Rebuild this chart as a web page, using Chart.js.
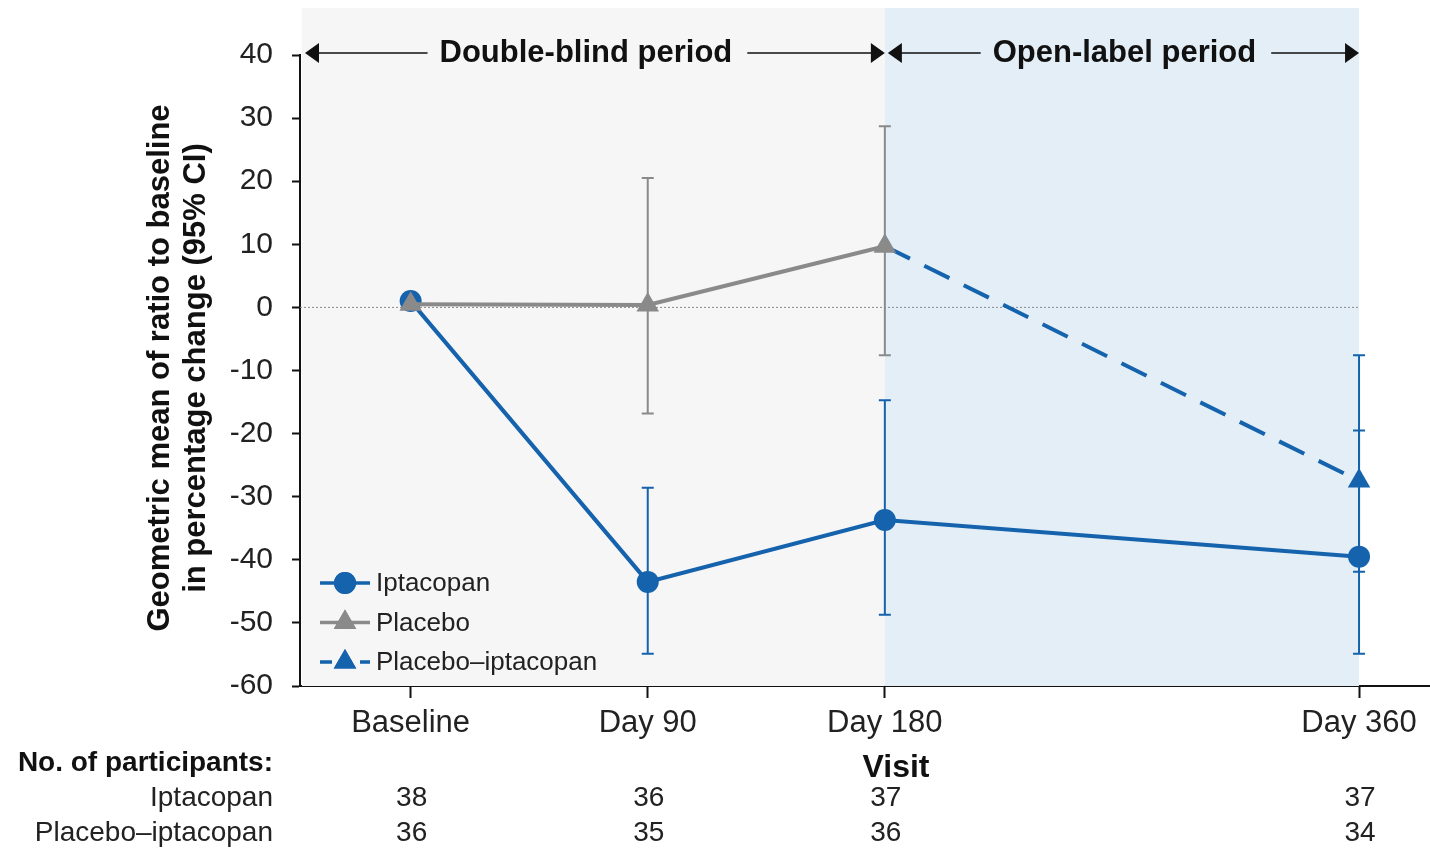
<!DOCTYPE html>
<html>
<head>
<meta charset="utf-8">
<script src="https://cdn.jsdelivr.net/npm/chart.js@4.4.1/dist/chart.umd.min.js"></script>
<style>
  body { margin: 0; background: #fff; }
  canvas { display: block; }
</style>
</head>
<body>
<canvas id="myChart" width="1430" height="849"></canvas>
<script>
// visits (days from baseline) and their labels
var visitLabels = ['Baseline', 'Day 90', 'Day 180', 'Day 360'];
var visitDays = [0, 90, 180, 360];

// geometric mean % change and 95% CI per visit
var iptacopanMean = [1.0, -43.5, -33.7, -39.5];
var iptacopanLow  = [null, -54.9, -48.7, -54.9];
var iptacopanHigh = [null, -28.6, -14.7, -19.5];

var placeboMean = [0.5, 0.4, 9.7, null];
var placeboLow  = [null, -16.8, -7.6, null];
var placeboHigh = [null, 20.5, 28.7, null];

var switchMean = [null, null, 9.7, -27.5];
var switchLow  = [null, null, null, -41.9];
var switchHigh = [null, null, null, -7.6];

// participants table under the axis
var nIptacopan = [38, 36, 37, 37];
var nSwitch = [36, 35, 36, 34];

var yTicks = [40, 30, 20, 10, 0, -10, -20, -30, -40, -50, -60];

var BLUE = '#1562ad';
var GREY = '#8a8a8a';
var FONT = '"Liberation Sans", Arial, sans-serif';

function toPoints(means) {
  var pts = [];
  for (var i = 0; i < visitDays.length; i++) {
    if (means[i] !== null) pts.push({ x: visitDays[i], y: means[i] });
  }
  return pts;
}

var errorBars = [
  { low: iptacopanLow, high: iptacopanHigh, color: BLUE },
  { low: placeboLow, high: placeboHigh, color: GREY },
  { low: switchLow, high: switchHigh, color: BLUE }
];

// shaded periods, zero line, error bars
var backdrop = {
  id: 'backdrop',
  beforeDatasetsDraw: function (chart) {
    var ctx = chart.ctx, x = chart.scales.x, y = chart.scales.y, area = chart.chartArea;
    var x180 = x.getPixelForValue(180), x360 = x.getPixelForValue(360);
    ctx.save();
    ctx.fillStyle = '#f6f6f6';
    ctx.fillRect(area.left + 2, 8, x180 - area.left - 2, area.bottom - 8);
    ctx.fillStyle = '#e3eef6';
    ctx.fillRect(x180, 8, x360 - x180, area.bottom - 8);

    // x axis line runs on to the edge of the canvas
    ctx.strokeStyle = '#111';
    ctx.lineWidth = 2;
    ctx.beginPath();
    ctx.moveTo(area.right - 1, area.bottom);
    ctx.lineTo(chart.width, area.bottom);
    ctx.stroke();

    var y0 = y.getPixelForValue(0);
    ctx.strokeStyle = '#8a8a8a';
    ctx.lineWidth = 1;
    ctx.setLineDash([2, 2]);
    ctx.beginPath();
    ctx.moveTo(area.left, y0);
    ctx.lineTo(x360, y0);
    ctx.stroke();
    ctx.setLineDash([]);

    errorBars.forEach(function (eb) {
      ctx.strokeStyle = eb.color;
      ctx.lineWidth = 2;
      for (var i = 0; i < visitDays.length; i++) {
        if (eb.low[i] === null) continue;
        var px = x.getPixelForValue(visitDays[i]);
        var top = y.getPixelForValue(eb.high[i]);
        var bot = y.getPixelForValue(eb.low[i]);
        ctx.beginPath();
        ctx.moveTo(px, top); ctx.lineTo(px, bot);
        ctx.moveTo(px - 6, top); ctx.lineTo(px + 6, top);
        ctx.moveTo(px - 6, bot); ctx.lineTo(px + 6, bot);
        ctx.stroke();
      }
    });
    ctx.restore();
  }
};

function arrowHead(ctx, tipX, y, dir) {
  ctx.beginPath();
  ctx.moveTo(tipX, y);
  ctx.lineTo(tipX - dir * 14, y - 10);
  ctx.lineTo(tipX - dir * 14, y + 10);
  ctx.closePath();
  ctx.fill();
}

function periodLabel(ctx, text, left, right, y, shift) {
  ctx.font = 'bold 31px ' + FONT;
  var cx = (left + right) / 2 + shift;
  var w = ctx.measureText(text).width;
  ctx.fillText(text, cx, y);
  ctx.beginPath();
  ctx.moveTo(left + 12, y); ctx.lineTo(cx - w / 2 - 12, y);
  ctx.moveTo(cx + w / 2 + 15, y); ctx.lineTo(right - 12, y);
  ctx.stroke();
  arrowHead(ctx, left, y, -1);
  arrowHead(ctx, right, y, 1);
}

// period arrows, legend, axis titles, participants table
var annotations = {
  id: 'annotations',
  afterDraw: function (chart) {
    var ctx = chart.ctx, x = chart.scales.x, area = chart.chartArea;
    var x180 = x.getPixelForValue(180), x360 = x.getPixelForValue(360);
    ctx.save();
    ctx.fillStyle = '#111';
    ctx.strokeStyle = '#111';
    ctx.lineWidth = 1.5;
    ctx.textAlign = 'center';
    ctx.textBaseline = 'middle';
    periodLabel(ctx, 'Double-blind period', area.left + 5, x180, 53, -9);
    periodLabel(ctx, 'Open-label period', x180 + 3, x360, 53, 1);

    // legend
    var legend = [
      { text: 'Iptacopan', color: BLUE, style: 'circle', dash: [] },
      { text: 'Placebo', color: GREY, style: 'triangle', dash: [] },
      { text: 'Placebo\u2013iptacopan', color: BLUE, style: 'triangle', dash: [12, 8] }
    ];
    ctx.font = '26px ' + FONT;
    ctx.textAlign = 'left';
    legend.forEach(function (item, i) {
      var ly = 583 + i * 39.5;
      ctx.strokeStyle = item.color;
      ctx.fillStyle = item.color;
      ctx.lineWidth = 3.5;
      ctx.setLineDash(item.dash);
      ctx.beginPath();
      ctx.moveTo(320, ly); ctx.lineTo(370, ly);
      ctx.stroke();
      ctx.setLineDash([]);
      Chart.helpers.drawPoint(ctx, { pointStyle: item.style, radius: item.style === 'circle' ? 11 : 13, borderWidth: 0 }, 345, ly);
      ctx.fill();
      ctx.fillStyle = '#222';
      ctx.fillText(item.text, 376, ly + 1);
    });

    // y axis title
    ctx.fillStyle = '#111';
    ctx.font = 'bold 31px ' + FONT;
    ctx.textAlign = 'center';
    ctx.translate(178, 368);
    ctx.rotate(-Math.PI / 2);
    ctx.fillText('Geometric mean of ratio to baseline', 0, -18);
    ctx.fillText('in percentage change (95% CI)', 0, 18);
    ctx.setTransform(1, 0, 0, 1, 0, 0);

    // x title and participants
    ctx.font = 'bold 32px ' + FONT;
    ctx.fillText('Visit', 896, 768);
    ctx.font = 'bold 28px ' + FONT;
    ctx.textAlign = 'right';
    ctx.fillText('No. of participants:', 273, 763);
    ctx.font = '28px ' + FONT;
    ctx.fillStyle = '#222';
    ctx.fillText('Iptacopan', 273, 798);
    ctx.fillText('Placebo\u2013iptacopan', 273, 833);
    ctx.textAlign = 'center';
    for (var i = 0; i < visitDays.length; i++) {
      var px = x.getPixelForValue(visitDays[i]);
      ctx.fillText(String(nIptacopan[i]), px + 1, 798);
      ctx.fillText(String(nSwitch[i]), px + 1, 833);
    }
    ctx.restore();
  }
};

var ctx = document.getElementById('myChart').getContext('2d');
var myChart = new Chart(ctx, {
  type: 'line',
  data: {
    datasets: [
      {
        label: 'Placebo',
        data: toPoints(placeboMean),
        borderColor: GREY,
        backgroundColor: GREY,
        borderWidth: 4,
        pointStyle: 'triangle',
        pointRadius: 13,
        pointBorderWidth: 0,
        order: 0
      },
      {
        label: 'Iptacopan',
        data: toPoints(iptacopanMean),
        borderColor: BLUE,
        backgroundColor: BLUE,
        borderWidth: 4,
        pointStyle: 'circle',
        pointRadius: 11,
        pointBorderWidth: 0,
        order: 1
      },
      {
        label: 'Placebo\u2013iptacopan',
        data: toPoints(switchMean),
        borderColor: BLUE,
        backgroundColor: BLUE,
        borderWidth: 4,
        borderDash: [28, 16],
        pointStyle: 'triangle',
        pointRadius: [0, 13],
        pointBorderWidth: 0,
        order: 2
      }
    ]
  },
  options: {
    responsive: false,
    animation: false,
    layout: { padding: { top: 55, left: 0, right: 0, bottom: 0 } },
    plugins: {
      legend: { display: false },
      tooltip: { enabled: false }
    },
    scales: {
      x: {
        type: 'linear',
        min: -42,
        max: 382,
        afterBuildTicks: function (scale) {
          scale.ticks = visitDays.map(function (d) { return { value: d }; });
        },
        afterFit: function (scale) { scale.height = 163; },
        grid: { drawOnChartArea: false, tickLength: 12, tickWidth: 2, tickColor: '#111' },
        border: { color: '#111', width: 2 },
        ticks: {
          autoSkip: false,
          maxRotation: 0,
          padding: 7,
          color: '#222',
          font: { family: FONT, size: 31 },
          callback: function (v) { return visitLabels[visitDays.indexOf(v)]; }
        }
      },
      y: {
        min: -60,
        max: 40,
        afterBuildTicks: function (scale) {
          scale.ticks = yTicks.map(function (v) { return { value: v }; });
        },
        afterFit: function (scale) { scale.width = 300; },
        grid: { drawOnChartArea: false, tickLength: 8, tickWidth: 2, tickColor: '#111' },
        border: { color: '#111', width: 2 },
        ticks: {
          padding: 19,
          color: '#222',
          font: { family: FONT, size: 30 },
          callback: function (v) { return String(v); }
        }
      }
    }
  },
  plugins: [backdrop, annotations]
});
</script>
</body>
</html>
